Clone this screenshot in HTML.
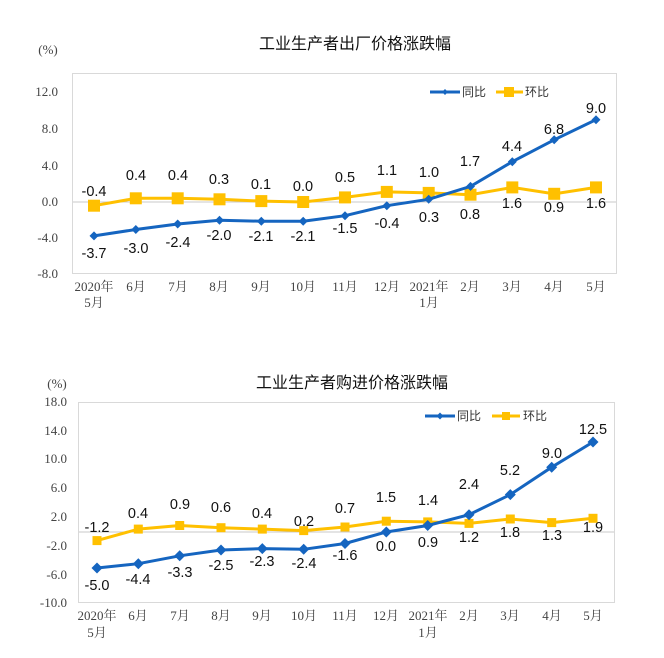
<!DOCTYPE html>
<html><head><meta charset="utf-8"><style>
html,body{margin:0;padding:0;background:#fff;width:664px;height:658px;overflow:hidden}
svg{display:block}
.t{font-family:"Liberation Sans","Noto Sans CJK SC",sans-serif;font-size:16px;fill:#111;text-anchor:middle}
.ax{font-family:"Liberation Serif","Noto Serif CJK SC",serif;font-size:13px;fill:#444}
.y{text-anchor:end}
.x{text-anchor:middle}
.d{font-family:"Liberation Sans",sans-serif;font-size:14.5px;fill:#111;text-anchor:middle}
.lg{font-family:"Liberation Sans","Noto Sans CJK SC",sans-serif;font-size:12px;fill:#333}
</style></head><body>
<svg width="664" height="658" viewBox="0 0 664 658">
<!-- TOP CHART -->
<text class="t" x="355" y="49">工业生产者出厂价格涨跌幅</text>
<text class="ax x" x="48" y="54">(%)</text>
<rect x="72.5" y="73.5" width="544" height="200" fill="none" stroke="#d9d9d9"/>
<line x1="73" y1="202" x2="616" y2="202" stroke="#c8c8c8"/>
<g class="ax y">
<text x="58" y="96">12.0</text><text x="58" y="133">8.0</text><text x="58" y="170">4.0</text>
<text x="58" y="206">0.0</text><text x="58" y="242">-4.0</text><text x="58" y="278">-8.0</text>
</g>
<g class="ax x">
<text x="94" y="291">2020年</text><text x="94" y="307">5月</text>
<text x="136" y="291">6月</text><text x="178" y="291">7月</text><text x="219" y="291">8月</text>
<text x="261" y="291">9月</text><text x="303" y="291">10月</text><text x="345" y="291">11月</text>
<text x="387" y="291">12月</text><text x="429" y="291">2021年</text><text x="429" y="307">1月</text>
<text x="470" y="291">2月</text><text x="512" y="291">3月</text><text x="554" y="291">4月</text><text x="596" y="291">5月</text>
</g>
<polyline fill="none" stroke="#ffc000" stroke-width="3" points="94,205.7 135.8,198.3 177.7,198.3 219.5,199.3 261.3,201.1 303.2,202 345,197.4 386.8,191.9 428.7,192.9 470.5,194.7 512.3,187.4 554.2,193.8 596,187.4"/>
<g fill="#ffc000">
<rect x="88" y="199.7" width="12" height="12"/><rect x="129.8" y="192.3" width="12" height="12"/><rect x="171.7" y="192.3" width="12" height="12"/><rect x="213.5" y="193.3" width="12" height="12"/><rect x="255.3" y="195.1" width="12" height="12"/><rect x="297.2" y="196" width="12" height="12"/><rect x="339" y="191.4" width="12" height="12"/><rect x="380.8" y="185.9" width="12" height="12"/><rect x="422.7" y="186.9" width="12" height="12"/><rect x="464.5" y="188.7" width="12" height="12"/><rect x="506.3" y="181.4" width="12" height="12"/><rect x="548.2" y="187.8" width="12" height="12"/><rect x="590" y="181.4" width="12" height="12"/>
</g>
<polyline fill="none" stroke="#1565c0" stroke-width="3" points="94,235.9 135.8,229.5 177.7,224 219.5,220.3 261.3,221.2 303.2,221.2 345,215.7 386.8,205.7 428.7,199.3 470.5,186.4 512.3,161.7 554.2,139.8 596,119.7"/>
<g fill="#1565c0">
<path d="M94 231.4l4.5 4.5-4.5 4.5-4.5-4.5z"/><path d="M135.8 225l4.5 4.5-4.5 4.5-4.5-4.5z"/><path d="M177.7 219.5l4.5 4.5-4.5 4.5-4.5-4.5z"/><path d="M219.5 215.8l4.5 4.5-4.5 4.5-4.5-4.5z"/><path d="M261.3 216.7l4.5 4.5-4.5 4.5-4.5-4.5z"/><path d="M303.2 216.7l4.5 4.5-4.5 4.5-4.5-4.5z"/><path d="M345 211.2l4.5 4.5-4.5 4.5-4.5-4.5z"/><path d="M386.8 201.2l4.5 4.5-4.5 4.5-4.5-4.5z"/><path d="M428.7 194.8l4.5 4.5-4.5 4.5-4.5-4.5z"/><path d="M470.5 181.9l4.5 4.5-4.5 4.5-4.5-4.5z"/><path d="M512.3 157.2l4.5 4.5-4.5 4.5-4.5-4.5z"/><path d="M554.2 135.3l4.5 4.5-4.5 4.5-4.5-4.5z"/><path d="M596 115.2l4.5 4.5-4.5 4.5-4.5-4.5z"/>
</g>
<g class="d">
<text x="94" y="258">-3.7</text><text x="136" y="253">-3.0</text><text x="178" y="247">-2.4</text><text x="219" y="240">-2.0</text><text x="261" y="241">-2.1</text><text x="303" y="241">-2.1</text><text x="345" y="233">-1.5</text><text x="387" y="228">-0.4</text><text x="429" y="222">0.3</text><text x="470" y="166">1.7</text><text x="512" y="151">4.4</text><text x="554" y="134">6.8</text><text x="596" y="113">9.0</text>
<text x="94" y="196">-0.4</text><text x="136" y="180">0.4</text><text x="178" y="180">0.4</text><text x="219" y="184">0.3</text><text x="261" y="189">0.1</text><text x="303" y="191">0.0</text><text x="345" y="182">0.5</text><text x="387" y="175">1.1</text><text x="429" y="177">1.0</text><text x="470" y="219">0.8</text><text x="512" y="208">1.6</text><text x="554" y="212">0.9</text><text x="596" y="208">1.6</text>
</g>
<line x1="430" y1="92" x2="460" y2="92" stroke="#1565c0" stroke-width="3"/><path d="M445 89l3 3-3 3-3-3z" fill="#1565c0"/>
<text class="lg" x="462" y="96">同比</text>
<line x1="496" y1="92" x2="523" y2="92" stroke="#ffc000" stroke-width="3"/><rect x="504" y="87" width="10" height="10" fill="#ffc000"/>
<text class="lg" x="525" y="96">环比</text>

<!-- BOTTOM CHART -->
<text class="t" x="352" y="388">工业生产者购进价格涨跌幅</text>
<text class="ax x" x="57" y="388">(%)</text>
<rect x="78.5" y="402.5" width="536" height="200" fill="none" stroke="#d9d9d9"/>
<line x1="79" y1="532" x2="614" y2="532" stroke="#c8c8c8"/>
<g class="ax y">
<text x="67" y="406">18.0</text><text x="67" y="435">14.0</text><text x="67" y="463">10.0</text><text x="67" y="492">6.0</text>
<text x="67" y="521">2.0</text><text x="67" y="550">-2.0</text><text x="67" y="579">-6.0</text><text x="67" y="607">-10.0</text>
</g>
<g class="ax x">
<text x="97" y="620">2020年</text><text x="97" y="637">5月</text>
<text x="138" y="620">6月</text><text x="180" y="620">7月</text><text x="221" y="620">8月</text>
<text x="262" y="620">9月</text><text x="304" y="620">10月</text><text x="345" y="620">11月</text>
<text x="386" y="620">12月</text><text x="428" y="620">2021年</text><text x="428" y="637">1月</text>
<text x="469" y="620">2月</text><text x="510" y="620">3月</text><text x="552" y="620">4月</text><text x="593" y="620">5月</text>
</g>
<polyline fill="none" stroke="#ffc000" stroke-width="3" points="97,540.6 138.3,529.1 179.7,525.5 221,527.7 262.3,529.1 303.7,530.6 345,527 386.3,521.2 427.7,521.9 469,523.4 510.3,519 551.7,522.6 593,518.3"/>
<g fill="#ffc000">
<rect x="92.5" y="536.1" width="9" height="9"/><rect x="133.8" y="524.6" width="9" height="9"/><rect x="175.2" y="521" width="9" height="9"/><rect x="216.5" y="523.2" width="9" height="9"/><rect x="257.8" y="524.6" width="9" height="9"/><rect x="299.2" y="526.1" width="9" height="9"/><rect x="340.5" y="522.5" width="9" height="9"/><rect x="381.8" y="516.7" width="9" height="9"/><rect x="423.2" y="517.4" width="9" height="9"/><rect x="464.5" y="518.9" width="9" height="9"/><rect x="505.8" y="514.5" width="9" height="9"/><rect x="547.2" y="518.1" width="9" height="9"/><rect x="588.5" y="513.8" width="9" height="9"/>
</g>
<polyline fill="none" stroke="#1565c0" stroke-width="3" points="97,568 138.3,563.7 179.7,555.8 221,550 262.3,548.6 303.7,549.3 345,543.5 386.3,532 427.7,525.5 469,514.7 510.3,494.6 551.7,467.2 593,442"/>
<g fill="#1565c0">
<path d="M97 562.5l5.5 5.5-5.5 5.5-5.5-5.5z"/><path d="M138.3 558.2l5.5 5.5-5.5 5.5-5.5-5.5z"/><path d="M179.7 550.3l5.5 5.5-5.5 5.5-5.5-5.5z"/><path d="M221 544.5l5.5 5.5-5.5 5.5-5.5-5.5z"/><path d="M262.3 543.1l5.5 5.5-5.5 5.5-5.5-5.5z"/><path d="M303.7 543.8l5.5 5.5-5.5 5.5-5.5-5.5z"/><path d="M345 538l5.5 5.5-5.5 5.5-5.5-5.5z"/><path d="M386.3 526.5l5.5 5.5-5.5 5.5-5.5-5.5z"/><path d="M427.7 520l5.5 5.5-5.5 5.5-5.5-5.5z"/><path d="M469 509.2l5.5 5.5-5.5 5.5-5.5-5.5z"/><path d="M510.3 489.1l5.5 5.5-5.5 5.5-5.5-5.5z"/><path d="M551.7 461.7l5.5 5.5-5.5 5.5-5.5-5.5z"/><path d="M593 436.5l5.5 5.5-5.5 5.5-5.5-5.5z"/>
</g>
<g class="d">
<text x="97" y="590">-5.0</text><text x="138" y="584">-4.4</text><text x="180" y="577">-3.3</text><text x="221" y="570">-2.5</text><text x="262" y="566">-2.3</text><text x="304" y="568">-2.4</text><text x="345" y="560">-1.6</text><text x="386" y="551">0.0</text><text x="428" y="547">0.9</text><text x="469" y="489">2.4</text><text x="510" y="475">5.2</text><text x="552" y="458">9.0</text><text x="593" y="434">12.5</text>
<text x="97" y="532">-1.2</text><text x="138" y="518">0.4</text><text x="180" y="509">0.9</text><text x="221" y="512">0.6</text><text x="262" y="518">0.4</text><text x="304" y="526">0.2</text><text x="345" y="513">0.7</text><text x="386" y="502">1.5</text><text x="428" y="505">1.4</text><text x="469" y="542">1.2</text><text x="510" y="537">1.8</text><text x="552" y="540">1.3</text><text x="593" y="532">1.9</text>
</g>
<line x1="425" y1="416" x2="455" y2="416" stroke="#1565c0" stroke-width="3"/><path d="M440 412.5l3.5 3.5-3.5 3.5-3.5-3.5z" fill="#1565c0"/>
<text class="lg" x="457" y="420">同比</text>
<line x1="492" y1="416" x2="520" y2="416" stroke="#ffc000" stroke-width="3"/><rect x="502" y="412" width="8" height="8" fill="#ffc000"/>
<text class="lg" x="523" y="420">环比</text>
</svg>
</body></html>
